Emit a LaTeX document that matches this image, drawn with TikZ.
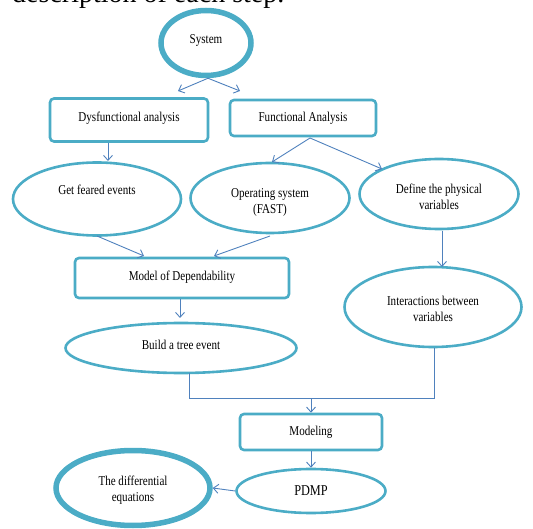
\documentclass[tikz,border=0pt]{standalone}
\usepackage{fontspec}
\setmainfont{Liberation Serif}[FakeStretch=0.82]
\newfontfamily\capfont{Liberation Serif}
\usetikzlibrary{shapes.geometric,arrows.meta}
\definecolor{bord}{HTML}{4BACC6}
\definecolor{arr}{HTML}{4F81BD}
\begin{document}
\begin{tikzpicture}[x=1pt,y=-1pt,
  every node/.style={font=\fontsize{13.5}{16}\selectfont, align=center, inner sep=0pt},
  ell/.style={ellipse, draw=bord, line width=2.6pt, fill=white},
  thickell/.style={ellipse, draw=bord, line width=5.5pt, fill=white},
  rbox/.style={rectangle, rounded corners=4pt, draw=bord, line width=2.6pt, fill=white},
  conn/.style={draw=arr, line width=0.9pt, -{Straight Barb[length=5pt,width=9pt]}},
  plain/.style={draw=arr, line width=0.9pt}]
\useasboundingbox (0,0) rectangle (533,529);
% partially visible caption line at the top
\node[anchor=base west, font=\capfont\fontsize{28}{30}\selectfont, inner sep=0pt] (cap) at (12,3) {description of each step.};
% nodes
\node[thickell, minimum width=90pt, minimum height=65pt] (sys) at (206,43) {};
\node at (206,40) {System};
\node[rbox, minimum width=158pt, minimum height=43pt] (dys) at (129,120) {};
\node at (129,118) {Dysfunctional analysis};
\node[rbox, minimum width=146pt, minimum height=36pt] (fun) at (303,118) {};
\node at (303,118) {Functional Analysis};
\node[ell, minimum width=168pt, minimum height=73pt] (get) at (97,199) {};
\node at (97,190) {Get feared events};
\node[ell, minimum width=159pt, minimum height=70pt] (ops) at (270,198) {};
\node at (270,202) {Operating system\\(FAST)};
\node[ell, minimum width=159pt, minimum height=70pt] (def) at (439,194) {};
\node at (439,197) {Define the physical\\variables};
\node[rbox, minimum width=214pt, minimum height=40pt] (mod) at (182,278) {};
\node at (182,277) {Model of Dependability};
\node[ell, minimum width=177pt, minimum height=80pt] (int) at (433,307) {};
\node at (433,309) {Interactions between\\variables};
\node[ell, minimum width=231pt, minimum height=50pt] (tree) at (181,348) {};
\node at (181,345) {Build a tree event};
\node[rbox, minimum width=142pt, minimum height=36pt] (mdl) at (311,432) {};
\node at (311,432) {Modeling};
\node[ell, minimum width=149pt, minimum height=44pt] (pdmp) at (311,491) {};
\node[font=\fontsize{15}{17}\selectfont] at (311,491) {PDMP};
\node[thickell, minimum width=154pt, minimum height=75pt] (deq) at (133,488) {};
\node at (133,490) {The differential\\equations};
\coordinate (j1) at (189,398);
\coordinate (j2) at (434,398);
\coordinate (jm) at (311,398);
% connectors
\draw[conn] (sys.south) ++(2,0) -- (178,91);
\draw[conn] (sys.south) ++(2,0) -- (240,91);
\draw[conn] (108,143) -- (108,161);
\draw[conn] (310,138) -- (272,162);
\draw[conn] (310,138) -- (382,169);
\draw[conn] (97,236) -- (144,256);
\draw[conn] (270,236) -- (214,256);
\draw[conn] (442,231) -- (442,267);
\draw[conn] (180,299) -- (180,318);
\draw[plain] (189,373) |- (j2) -- (434,348);
\draw[conn] (jm) -- (mdl.north);
\draw[conn] (mdl.south) -- (pdmp.north);
\draw[conn] (pdmp.west) -- (deq.east);
\end{tikzpicture}
\end{document}
